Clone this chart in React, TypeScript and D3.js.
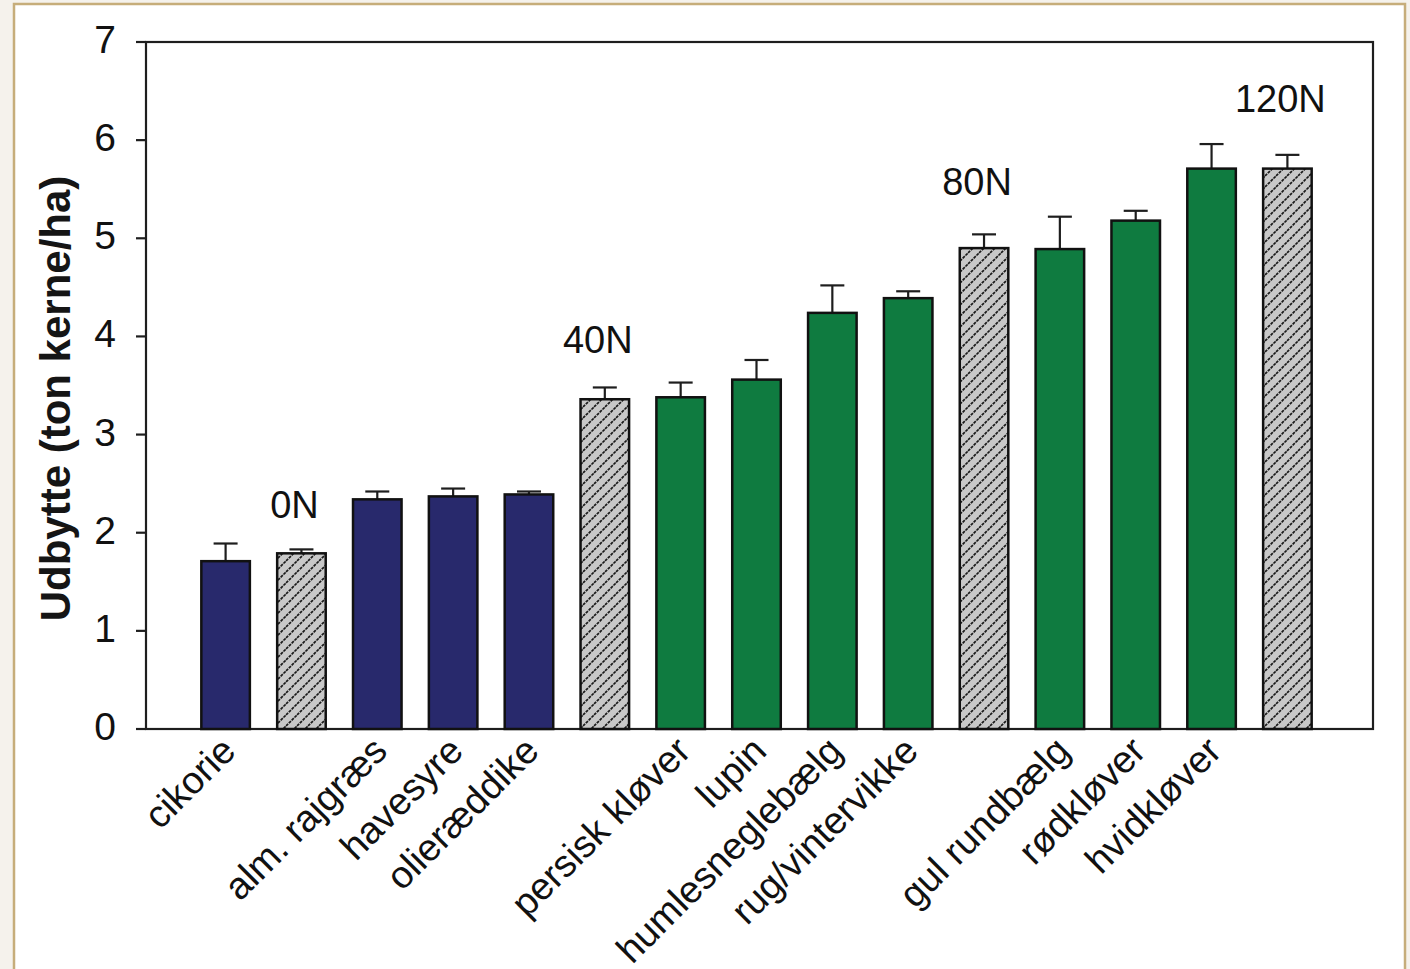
import React from "react";
import * as d3 from "d3";

// ---- data ----
const barIds = ["b1", "b2", "b3", "b4", "b5", "b6", "b7", "b8", "b9", "b10", "b11", "b12", "b13", "b14", "b15"];
const xLabels = [
  "cikorie", "", "alm. rajgræs", "havesyre", "olieræddike", "",
  "persisk kløver", "lupin", "humlesneglebælg", "rug/vintervikke", "",
  "gul rundbælg", "rødkløver", "hvidkløver", "",
];
const barKinds = ["navy", "ref", "navy", "navy", "navy", "ref", "green", "green", "green", "green", "ref", "green", "green", "green", "ref"];
const yields = [1.71, 1.79, 2.34, 2.37, 2.39, 3.36, 3.38, 3.56, 4.24, 4.39, 4.9, 4.89, 5.18, 5.71, 5.71];
const errors = [0.18, 0.04, 0.08, 0.08, 0.03, 0.12, 0.15, 0.2, 0.28, 0.07, 0.14, 0.33, 0.1, 0.25, 0.14];
const yTicks = [0, 1, 2, 3, 4, 5, 6, 7];
const annotLabels = ["0N", "40N", "80N", "120N"];
const annotBars = ["b2", "b6", "b11", "b15"];
const annotY = [2.15, 3.83, 5.44, 6.29];
const yTitle = "Udbytte (ton kerne/ha)";

const W = 1410;
const H = 969;
const plot = { left: 146, right: 1373, top: 42, bottom: 729 };
const colors: Record<string, string> = { navy: "#28296c", green: "#0f7b40", ref: "url(#hatch)" };
const FONT = "'Liberation Sans', Arial, sans-serif";

export default function App() {
  const x = d3
    .scaleBand<string>()
    .domain(barIds)
    .range([149, 1364])
    .paddingInner(0.36)
    .paddingOuter(0.69);
  const y = d3.scaleLinear().domain([0, 7]).range([plot.bottom, plot.top]);
  const bw = x.bandwidth();
  const cap = 24;

  return (
    <svg
      width={W}
      height={H}
      style={{ position: "absolute", left: 0, top: 0, background: "#f5f2ec" }}
    >
      <defs>
        <pattern id="hatch" patternUnits="userSpaceOnUse" width={11} height={11}>
          <rect width={11} height={11} fill="#c8c8c8" />
          <path
            d="M0,11 L11,0 M-2.75,2.75 L2.75,-2.75 M8.25,13.75 L13.75,8.25"
            stroke="#1a1a1a"
            strokeWidth={1.7}
            strokeDasharray="3,1"
          />
        </pattern>
      </defs>
      <rect x={14} y={4} width={1391} height={1010} fill="#ffffff" stroke="#c6ad7a" strokeWidth={2.5} />

      {/* plot frame */}
      <rect
        x={plot.left}
        y={plot.top}
        width={plot.right - plot.left}
        height={plot.bottom - plot.top}
        fill="none"
        stroke="#1e1e1e"
        strokeWidth={2.2}
      />

      {/* y ticks */}
      {yTicks.map((t) => (
        <g key={t}>
          <line x1={136} x2={plot.left} y1={y(t)} y2={y(t)} stroke="#1e1e1e" strokeWidth={2.2} />
          <text
            x={116}
            y={y(t) + 11}
            textAnchor="end"
            fontFamily={FONT}
            fontSize={39}
            fill="#111"
          >
            {t}
          </text>
        </g>
      ))}

      {/* y title */}
      <text
        transform={`translate(70, ${(plot.top + plot.bottom) / 2 + 13}) rotate(-90)`}
        textAnchor="middle"
        fontFamily={FONT}
        fontSize={42}
        fontWeight="bold"
        fill="#151515"
      >
        {yTitle}
      </text>

      {/* bars */}
      {barIds.map((id, i) => {
        const x0 = x(id) as number;
        const top = y(yields[i]);
        const eTop = y(yields[i] + errors[i]);
        const cx = x0 + bw / 2;
        return (
          <g key={id}>
            <line x1={cx} x2={cx} y1={top} y2={eTop} stroke="#1e1e1e" strokeWidth={2.2} />
            <line x1={cx - cap / 2} x2={cx + cap / 2} y1={eTop} y2={eTop} stroke="#1e1e1e" strokeWidth={2.2} />
            <rect
              x={x0}
              y={top}
              width={bw}
              height={y(0) - top}
              fill={colors[barKinds[i]]}
              stroke="#111"
              strokeWidth={2.5}
            />
          </g>
        );
      })}

      {/* x labels */}
      {barIds.map((id, i) =>
        xLabels[i] ? (
          <text
            key={"l" + id}
            transform={`translate(${(x(id) as number) + bw / 2 + 12}, ${plot.bottom + 24}) rotate(-45)`}
            textAnchor="end"
            fontFamily={FONT}
            fontSize={38}
            fill="#111"
          >
            {xLabels[i]}
          </text>
        ) : null
      )}

      {/* annotations */}
      {annotLabels.map((lab, i) => (
        <text
          key={lab}
          x={(x(annotBars[i]) as number) + bw / 2 - 7}
          y={y(annotY[i])}
          textAnchor="middle"
          fontFamily={FONT}
          fontSize={38}
          fill="#111"
        >
          {lab}
        </text>
      ))}
    </svg>
  );
}
